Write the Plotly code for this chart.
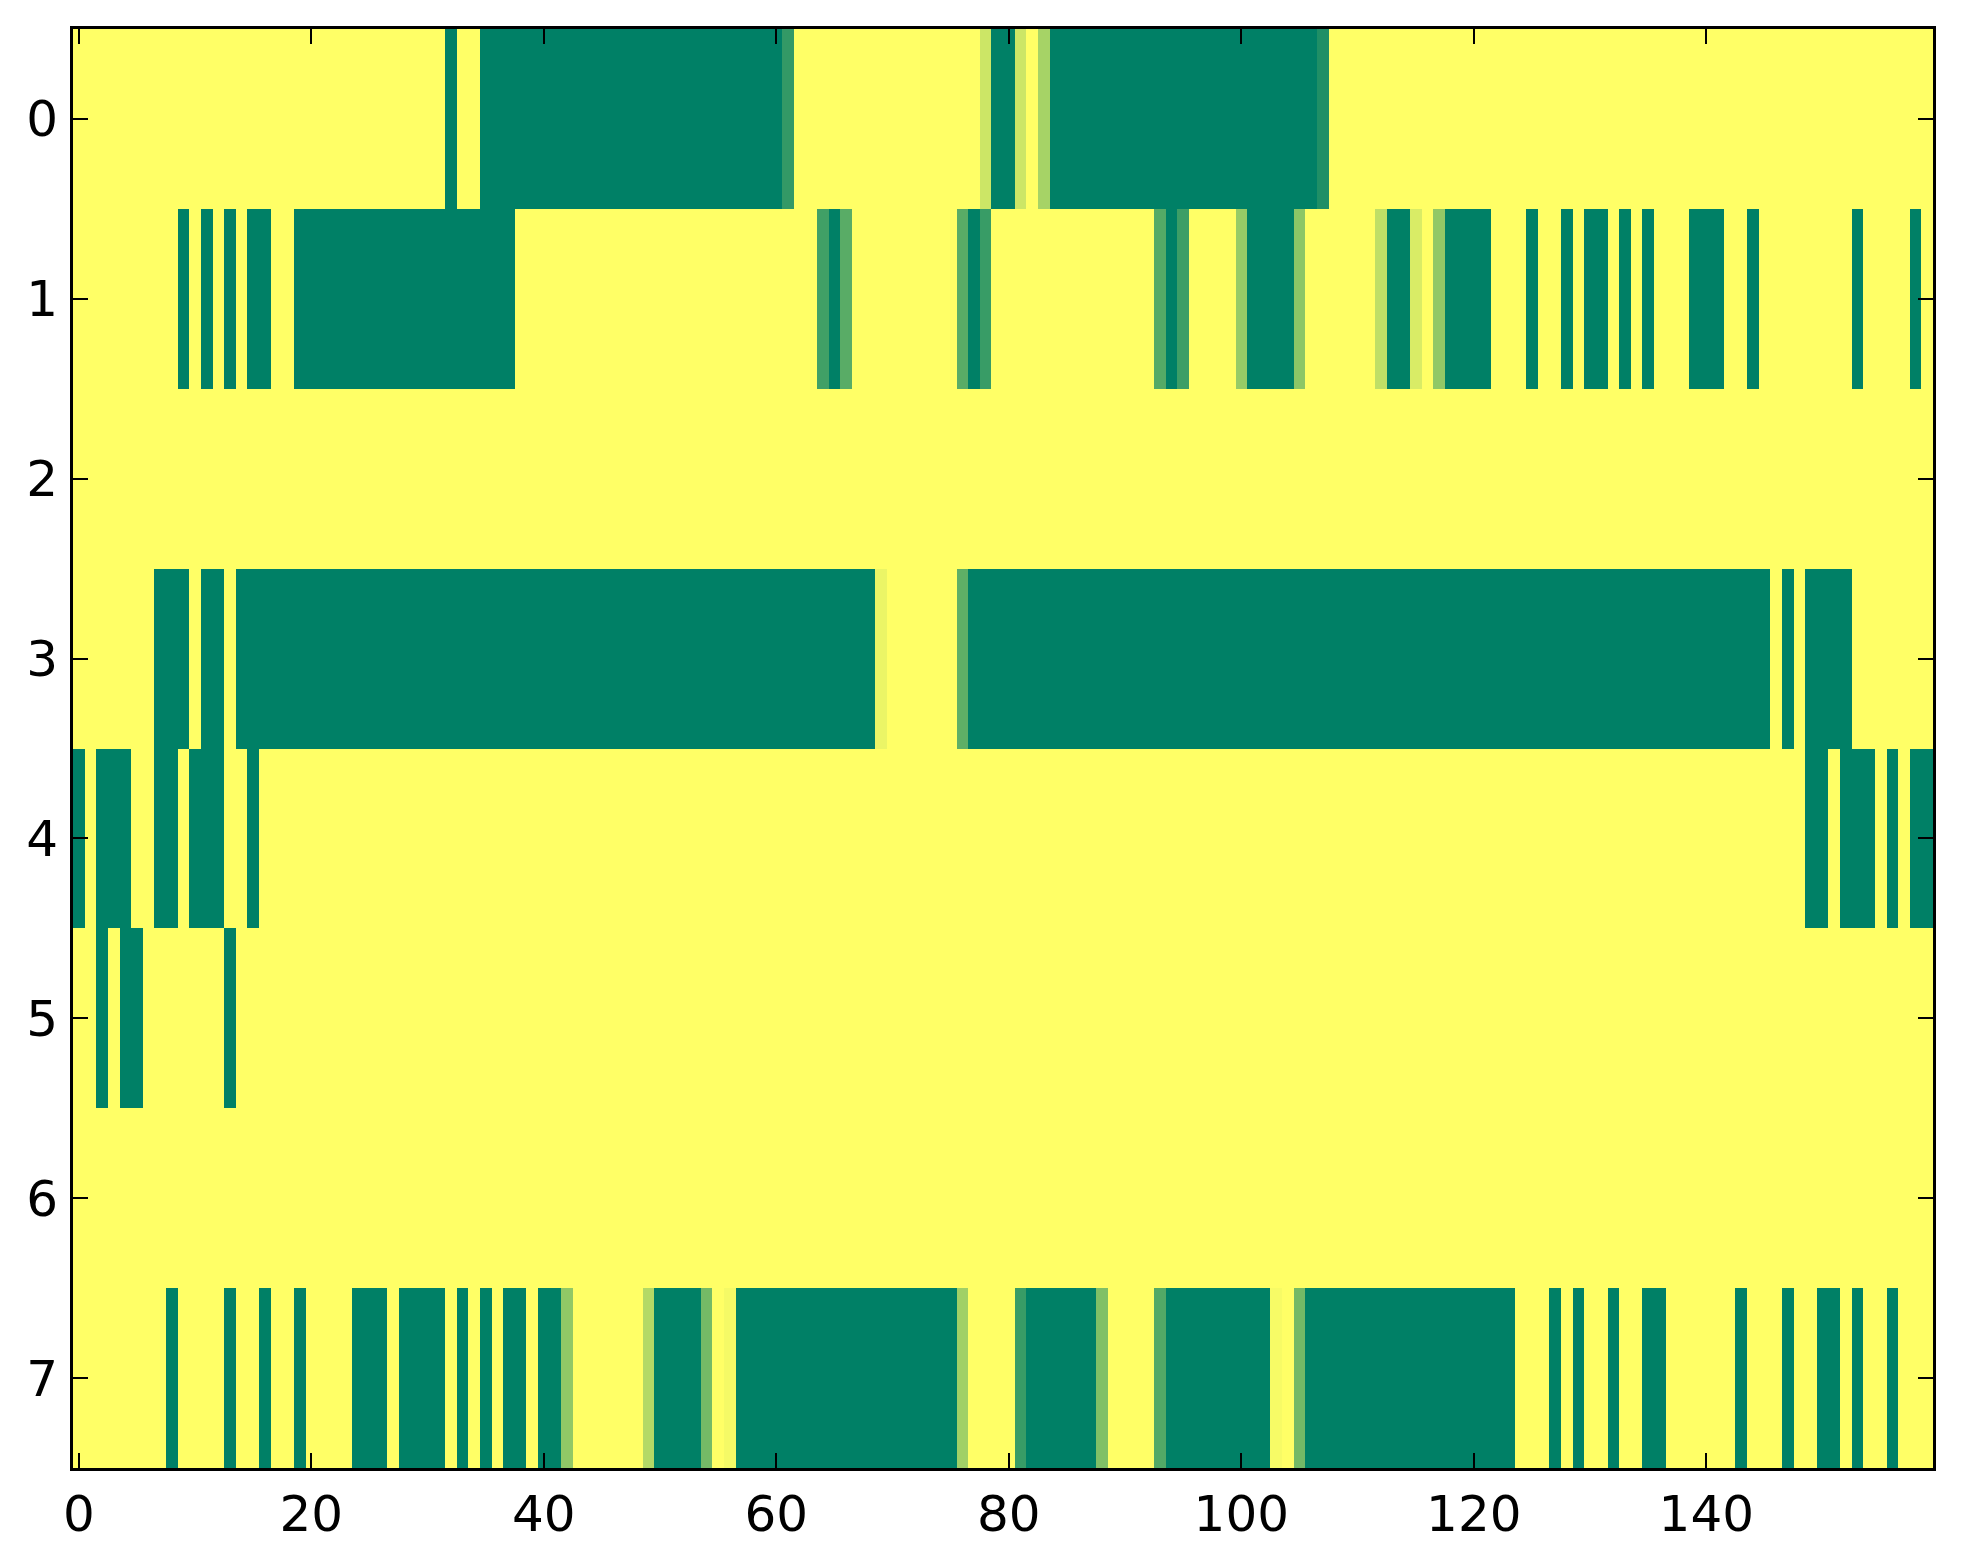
import plotly.graph_objects as go

# 8 channels x 160 samples (0 = green end, 1 = yellow end)
COLUMNS = list(range(160))
ROWS = list(range(8))

ROW_0 = [1, 1, 1, 1, 1, 1, 1, 1, 1, 1, 1, 1, 1, 1, 1, 1, 1, 1, 1, 1,
         1, 1, 1, 1, 1, 1, 1, 1, 1, 1, 1, 1, 0, 1, 1, 0, 0, 0, 0, 0,
         0, 0, 0, 0, 0, 0, 0, 0, 0, 0, 0, 0, 0, 0, 0, 0, 0, 0, 0, 0,
         0, 0.2, 1, 1, 1, 1, 1, 1, 1, 1, 1, 1, 1, 1, 1, 1, 1, 1, 0.8, 0,
         0, 0.8, 1, 0.65, 0, 0, 0, 0, 0, 0, 0, 0, 0, 0, 0, 0, 0, 0, 0, 0,
         0, 0, 0, 0, 0, 0, 0, 0.12, 1, 1, 1, 1, 1, 1, 1, 1, 1, 1, 1, 1,
         1, 1, 1, 1, 1, 1, 1, 1, 1, 1, 1, 1, 1, 1, 1, 1, 1, 1, 1, 1,
         1, 1, 1, 1, 1, 1, 1, 1, 1, 1, 1, 1, 1, 1, 1, 1, 1, 1, 1, 1]

ROW_1 = [1, 1, 1, 1, 1, 1, 1, 1, 1, 0, 1, 0, 1, 0, 1, 0, 0, 1, 1, 0,
         0, 0, 0, 0, 0, 0, 0, 0, 0, 0, 0, 0, 0, 0, 0, 0, 0, 0, 1, 1,
         1, 1, 1, 1, 1, 1, 1, 1, 1, 1, 1, 1, 1, 1, 1, 1, 1, 1, 1, 1,
         1, 1, 1, 1, 0.25, 0, 0.35, 1, 1, 1, 1, 1, 1, 1, 1, 1, 0.35, 0, 0.22, 1,
         1, 1, 1, 1, 1, 1, 1, 1, 1, 1, 1, 1, 1, 0.33, 0, 0.24, 1, 1, 1, 1,
         0.59, 0, 0, 0, 0, 0.55, 1, 1, 1, 1, 1, 1, 0.75, 0, 0, 0.85, 1, 0.57, 0, 0,
         0, 0, 1, 1, 1, 0, 1, 1, 0, 1, 0, 0, 1, 0, 1, 0, 1, 1, 1, 0,
         0, 0, 1, 1, 0, 1, 1, 1, 1, 1, 1, 1, 1, 0, 1, 1, 1, 1, 0, 1]

ROW_2 = [1, 1, 1, 1, 1, 1, 1, 1, 1, 1, 1, 1, 1, 1, 1, 1, 1, 1, 1, 1,
         1, 1, 1, 1, 1, 1, 1, 1, 1, 1, 1, 1, 1, 1, 1, 1, 1, 1, 1, 1,
         1, 1, 1, 1, 1, 1, 1, 1, 1, 1, 1, 1, 1, 1, 1, 1, 1, 1, 1, 1,
         1, 1, 1, 1, 1, 1, 1, 1, 1, 1, 1, 1, 1, 1, 1, 1, 1, 1, 1, 1,
         1, 1, 1, 1, 1, 1, 1, 1, 1, 1, 1, 1, 1, 1, 1, 1, 1, 1, 1, 1,
         1, 1, 1, 1, 1, 1, 1, 1, 1, 1, 1, 1, 1, 1, 1, 1, 1, 1, 1, 1,
         1, 1, 1, 1, 1, 1, 1, 1, 1, 1, 1, 1, 1, 1, 1, 1, 1, 1, 1, 1,
         1, 1, 1, 1, 1, 1, 1, 1, 1, 1, 1, 1, 1, 1, 1, 1, 1, 1, 1, 1]

ROW_3 = [1, 1, 1, 1, 1, 1, 1, 0, 0, 0, 1, 0, 0, 1, 0, 0, 0, 0, 0, 0,
         0, 0, 0, 0, 0, 0, 0, 0, 0, 0, 0, 0, 0, 0, 0, 0, 0, 0, 0, 0,
         0, 0, 0, 0, 0, 0, 0, 0, 0, 0, 0, 0, 0, 0, 0, 0, 0, 0, 0, 0,
         0, 0, 0, 0, 0, 0, 0, 0, 0, 0.92, 1, 1, 1, 1, 1, 1, 0.37, 0, 0, 0,
         0, 0, 0, 0, 0, 0, 0, 0, 0, 0, 0, 0, 0, 0, 0, 0, 0, 0, 0, 0,
         0, 0, 0, 0, 0, 0, 0, 0, 0, 0, 0, 0, 0, 0, 0, 0, 0, 0, 0, 0,
         0, 0, 0, 0, 0, 0, 0, 0, 0, 0, 0, 0, 0, 0, 0, 0, 0, 0, 0, 0,
         0, 0, 0, 0, 0, 0, 1, 0, 1, 0, 0, 0, 0, 1, 1, 1, 1, 1, 1, 1]

ROW_4 = [0, 1, 0, 0, 0, 1, 1, 0, 0, 1, 0, 0, 0, 1, 1, 0, 1, 1, 1, 1,
         1, 1, 1, 1, 1, 1, 1, 1, 1, 1, 1, 1, 1, 1, 1, 1, 1, 1, 1, 1,
         1, 1, 1, 1, 1, 1, 1, 1, 1, 1, 1, 1, 1, 1, 1, 1, 1, 1, 1, 1,
         1, 1, 1, 1, 1, 1, 1, 1, 1, 1, 1, 1, 1, 1, 1, 1, 1, 1, 1, 1,
         1, 1, 1, 1, 1, 1, 1, 1, 1, 1, 1, 1, 1, 1, 1, 1, 1, 1, 1, 1,
         1, 1, 1, 1, 1, 1, 1, 1, 1, 1, 1, 1, 1, 1, 1, 1, 1, 1, 1, 1,
         1, 1, 1, 1, 1, 1, 1, 1, 1, 1, 1, 1, 1, 1, 1, 1, 1, 1, 1, 1,
         1, 1, 1, 1, 1, 1, 1, 1, 1, 0, 0, 1, 0, 0, 0, 1, 0, 1, 0, 0]

ROW_5 = [1, 1, 0, 1, 0, 0, 1, 1, 1, 1, 1, 1, 1, 0, 1, 1, 1, 1, 1, 1,
         1, 1, 1, 1, 1, 1, 1, 1, 1, 1, 1, 1, 1, 1, 1, 1, 1, 1, 1, 1,
         1, 1, 1, 1, 1, 1, 1, 1, 1, 1, 1, 1, 1, 1, 1, 1, 1, 1, 1, 1,
         1, 1, 1, 1, 1, 1, 1, 1, 1, 1, 1, 1, 1, 1, 1, 1, 1, 1, 1, 1,
         1, 1, 1, 1, 1, 1, 1, 1, 1, 1, 1, 1, 1, 1, 1, 1, 1, 1, 1, 1,
         1, 1, 1, 1, 1, 1, 1, 1, 1, 1, 1, 1, 1, 1, 1, 1, 1, 1, 1, 1,
         1, 1, 1, 1, 1, 1, 1, 1, 1, 1, 1, 1, 1, 1, 1, 1, 1, 1, 1, 1,
         1, 1, 1, 1, 1, 1, 1, 1, 1, 1, 1, 1, 1, 1, 1, 1, 1, 1, 1, 1]

ROW_6 = [1, 1, 1, 1, 1, 1, 1, 1, 1, 1, 1, 1, 1, 1, 1, 1, 1, 1, 1, 1,
         1, 1, 1, 1, 1, 1, 1, 1, 1, 1, 1, 1, 1, 1, 1, 1, 1, 1, 1, 1,
         1, 1, 1, 1, 1, 1, 1, 1, 1, 1, 1, 1, 1, 1, 1, 1, 1, 1, 1, 1,
         1, 1, 1, 1, 1, 1, 1, 1, 1, 1, 1, 1, 1, 1, 1, 1, 1, 1, 1, 1,
         1, 1, 1, 1, 1, 1, 1, 1, 1, 1, 1, 1, 1, 1, 1, 1, 1, 1, 1, 1,
         1, 1, 1, 1, 1, 1, 1, 1, 1, 1, 1, 1, 1, 1, 1, 1, 1, 1, 1, 1,
         1, 1, 1, 1, 1, 1, 1, 1, 1, 1, 1, 1, 1, 1, 1, 1, 1, 1, 1, 1,
         1, 1, 1, 1, 1, 1, 1, 1, 1, 1, 1, 1, 1, 1, 1, 1, 1, 1, 1, 1]

ROW_7 = [1, 1, 1, 1, 1, 1, 1, 1, 0, 1, 1, 1, 1, 0, 1, 1, 0, 1, 1, 0,
         1, 1, 1, 1, 0, 0, 0, 1, 0, 0, 0, 0, 1, 0, 1, 0, 1, 0, 0, 1,
         0, 0, 0.57, 1, 1, 1, 1, 1, 1, 0.7, 0, 0, 0, 0, 0.46, 1, 0.96, 0, 0, 0,
         0, 0, 0, 0, 0, 0, 0, 0, 0, 0, 0, 0, 0, 0, 0, 0, 0.63, 1, 1, 1,
         1, 0.22, 0, 0, 0, 0, 0, 0, 0.5, 1, 1, 1, 1, 0.32, 0, 0, 0, 0, 0, 0,
         0, 0, 0, 0.97, 1, 0.45, 0, 0, 0, 0, 0, 0, 0, 0, 0, 0, 0, 0, 0, 0,
         0, 0, 0, 0, 1, 1, 1, 0, 1, 0, 1, 1, 0, 1, 1, 0, 0, 1, 1, 1,
         1, 1, 1, 0, 1, 1, 1, 0, 1, 1, 0, 0, 1, 0, 1, 1, 0, 1, 1, 1]

X_TICKS = [0, 20, 40, 60, 80, 100, 120, 140]
Y_TICKS = [0, 1, 2, 3, 4, 5, 6, 7]

# matplotlib "summer" colormap
SUMMER = [[0.0, 'rgb(0,128,102)'], [1.0, 'rgb(255,255,102)']]

grid = [ROW_0, ROW_1, ROW_2, ROW_3, ROW_4, ROW_5, ROW_6, ROW_7]

fig = go.Figure(go.Heatmap(z=grid, x=COLUMNS, y=ROWS,
                           colorscale=SUMMER, zmin=0, zmax=1,
                           showscale=False, zsmooth=False))

axis_style = dict(showline=True, linecolor='black', linewidth=3, mirror='ticks',
                  ticks='inside', ticklen=15, tickwidth=2, tickcolor='black',
                  showgrid=False, zeroline=False,
                  tickfont=dict(family='DejaVu Sans', size=50, color='black'))

fig.update_xaxes(range=[-0.5, 159.5], tickvals=X_TICKS, ticklabelstandoff=0, **axis_style)
fig.update_yaxes(range=[7.5, -0.5], tickvals=Y_TICKS, ticklabelstandoff=2, **axis_style)

# page body adds ~8px offset, so the margins are shifted to land the frame where it sits in the reference
fig.update_layout(width=1963, height=1564,
                  margin=dict(l=65, r=38, t=21, b=104),
                  paper_bgcolor='white', plot_bgcolor='white')

fig.write_html("out.html")
